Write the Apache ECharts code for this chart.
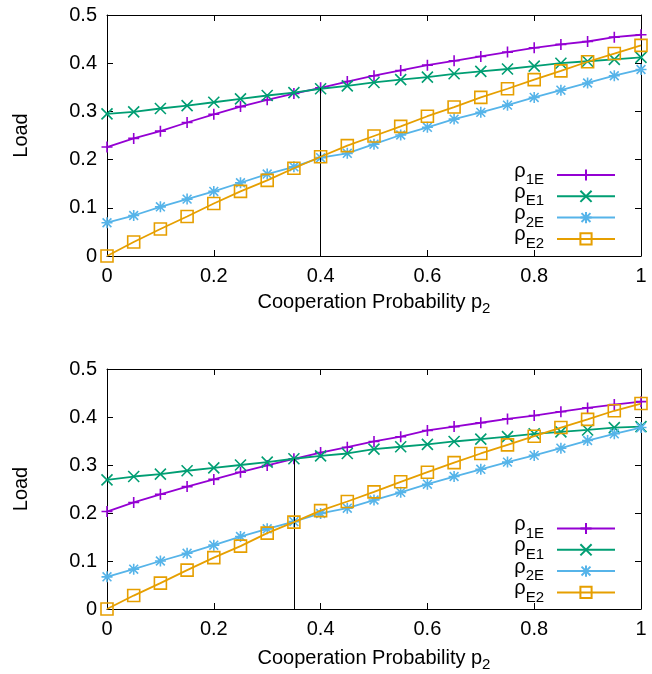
<!DOCTYPE html>
<html>
<head>
<meta charset="utf-8">
<script src="https://cdn.jsdelivr.net/npm/echarts@6/dist/echarts.min.js"></script>
<style>
html,body{margin:0;padding:0;background:#fff;}
#chart{width:652px;height:674px;}
</style>
</head>
<body>
<div id="chart"></div>
<script>
// ---- data ----
const p2 = [0, 0.05, 0.1, 0.15, 0.2, 0.25, 0.3, 0.35, 0.4, 0.45, 0.5, 0.55, 0.6, 0.65, 0.7, 0.75, 0.8, 0.85, 0.9, 0.95, 1.0];
const seriesNames = ['ρ1E', 'ρE1', 'ρ2E', 'ρE2'];
const subLabels = ['1E', 'E1', '2E', 'E2'];

// top chart
const top_rho1E = [0.226,0.244,0.259,0.277,0.294,0.310,0.324,0.337,0.349,0.362,0.374,0.385,0.396,0.405,0.414,0.423,0.432,0.439,0.445,0.454,0.459];
const top_rhoE1 = [0.295,0.299,0.306,0.312,0.319,0.326,0.333,0.339,0.347,0.353,0.360,0.366,0.371,0.378,0.383,0.388,0.394,0.400,0.404,0.408,0.412];
const top_rho2E = [0.069,0.084,0.102,0.118,0.134,0.152,0.170,0.185,0.204,0.213,0.232,0.251,0.267,0.284,0.298,0.313,0.329,0.344,0.359,0.374,0.387];
const top_rhoE2 = [0.000,0.029,0.056,0.082,0.109,0.134,0.157,0.182,0.206,0.229,0.249,0.269,0.290,0.309,0.329,0.347,0.366,0.384,0.403,0.420,0.437];

// bottom chart
const bot_rho1E = [0.203,0.222,0.239,0.255,0.270,0.285,0.299,0.313,0.326,0.337,0.349,0.359,0.372,0.380,0.388,0.396,0.403,0.411,0.419,0.426,0.432];
const bot_rhoE1 = [0.269,0.276,0.281,0.288,0.294,0.300,0.306,0.313,0.319,0.324,0.333,0.338,0.343,0.349,0.354,0.359,0.365,0.369,0.373,0.378,0.380];
const bot_rho2E = [0.067,0.083,0.100,0.116,0.133,0.151,0.167,0.182,0.199,0.210,0.227,0.243,0.260,0.276,0.291,0.306,0.320,0.335,0.351,0.365,0.378];
const bot_rhoE2 = [0.000,0.028,0.054,0.081,0.107,0.131,0.158,0.181,0.205,0.224,0.244,0.265,0.285,0.305,0.324,0.342,0.360,0.378,0.395,0.413,0.428];

// crossing markers (vertical lines)
const crossX = [0.4, 0.35];
const crossY = [0.348, 0.313];

// ---- styling ----
const FONT = '"Liberation Sans", Arial, Helvetica, sans-serif';
const colors = ['#9400d3', '#009e73', '#56b4e9', '#e69f00'];
const symbols = [
  'path://M5,0L5,10M0,5L10,5',
  'path://M0,0L10,10M10,0L0,10',
  'path://M5,0L5,10M0,5L10,5M1,1L9,9M9,1L1,9',
  'path://M0,0L10,0L10,10L0,10Z'
];
const symSizes = [11, 11, 11, 12];

const richLegend = {
  m: {fontSize: 20, lineHeight: 33, verticalAlign: 'top', padding: [2.5, 0, 0, 0], fontFamily: FONT, color: '#000'},
  sp: {fontSize: 15, lineHeight: 33, verticalAlign: 'top', padding: [14, 8, 0, 0], fontFamily: FONT, color: '#000'}
};
const richAxis = {
  m: {fontSize: 20, verticalAlign: 'top', fontFamily: FONT, color: '#000'},
  s: {fontSize: 15, verticalAlign: 'top', padding: [9.5, 0, 0, 0], fontFamily: FONT, color: '#000'}
};

const grids = [
  {left: 107, width: 534, top: 15, height: 241},
  {left: 107, width: 534, top: 369, height: 240}
];

function xAxes(gi, nameGap) {
  const common = {
    type: 'value', gridIndex: gi, min: 0, max: 1, interval: 0.2,
    splitLine: {show: false},
    axisLine: {show: true, onZero: false, lineStyle: {color: '#000', width: 1}},
    axisTick: {show: true, inside: true, length: 6, lineStyle: {color: '#000', width: 1}}
  };
  return [
    Object.assign({}, common, {
      position: 'bottom',
      axisLabel: {show: true, margin: 10, fontSize: 20, color: '#000', fontFamily: FONT,
        formatter: v => String(+v.toFixed(2))},
      name: '{m|Cooperation Probability p}{s|2}',
      nameLocation: 'middle', nameGap: nameGap,
      nameTextStyle: {rich: richAxis}
    }),
    Object.assign({}, common, {position: 'top', axisLabel: {show: false}})
  ];
}
function yAxes(gi) {
  const common = {
    type: 'value', gridIndex: gi, min: 0, max: 0.5, interval: 0.1,
    splitLine: {show: false},
    axisLine: {show: true, onZero: false, lineStyle: {color: '#000', width: 1}},
    axisTick: {show: true, inside: true, length: 6, lineStyle: {color: '#000', width: 1}}
  };
  return [
    Object.assign({}, common, {
      position: 'left',
      axisLabel: {show: true, margin: 10, fontSize: 20, color: '#000', fontFamily: FONT,
        formatter: v => String(+v.toFixed(2))},
      name: 'Load', nameLocation: 'middle', nameGap: 76,
      nameTextStyle: {fontSize: 20, color: '#000', fontFamily: FONT}
    }),
    Object.assign({}, common, {position: 'right', axisLabel: {show: false}})
  ];
}

function makeSeries(gi, arrays) {
  return arrays.map((arr, k) => {
    const s = {
      name: seriesNames[k],
      type: 'line',
      xAxisIndex: gi * 2,
      yAxisIndex: gi * 2,
      data: p2.map((x, i) => [x, arr[i]]),
      symbol: symbols[k],
      symbolSize: symSizes[k],
      showSymbol: true,
      showAllSymbol: true,
      lineStyle: {color: colors[k], width: 1.8},
      itemStyle: {color: 'rgba(0,0,0,0)', borderColor: colors[k], borderWidth: 1.6},
      emphasis: {disabled: true},
      z: 2 + k
    };
    if (k === 0) {
      s.markLine = {
        silent: true, symbol: 'none', label: {show: false},
        lineStyle: {color: '#000', width: 1, type: 'solid'},
        data: [[{coord: [crossX[gi], 0]}, {coord: [crossX[gi], crossY[gi]]}]]
      };
    }
    return s;
  });
}

function legend(topPx) {
  return {
    orient: 'vertical',
    right: 36,
    top: topPx,
    align: 'right',
    itemWidth: 58,
    itemHeight: 14,
    itemGap: -7.7,
    padding: 0,
    data: seriesNames,
    formatter: name => '{m|ρ}{sp|' + subLabels[seriesNames.indexOf(name)] + '}',
    textStyle: {rich: richLegend, fontFamily: FONT, color: '#000'},
    selectedMode: false
  };
}

const option = {
  animation: false,
  backgroundColor: '#fff',
  grid: grids,
  xAxis: [...xAxes(0, 36), ...xAxes(1, 39)],
  yAxis: [...yAxes(0), ...yAxes(1)],
  legend: [legend(158.5), legend(512)],
  series: [
    ...makeSeries(0, [top_rho1E, top_rhoE1, top_rho2E, top_rhoE2]),
    ...makeSeries(1, [bot_rho1E, bot_rhoE1, bot_rho2E, bot_rhoE2])
  ]
};

const chart = echarts.init(document.getElementById('chart'), null, {renderer: 'canvas'});
chart.setOption(option);
</script>
</body>
</html>
